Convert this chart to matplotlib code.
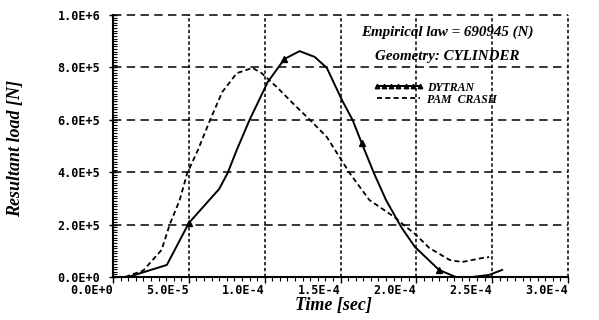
import numpy as np
import matplotlib
matplotlib.use('Agg')
import matplotlib.pyplot as plt
from matplotlib.ticker import FuncFormatter, MultipleLocator

# DYTRAN curve, time in microseconds, load in kN
t_dytran = [10, 35.5, 50, 70, 75.6, 81.6, 90, 102, 113, 123, 133, 141, 151, 158,
            164, 172, 180, 190, 199, 215, 226, 237, 248, 256.6]
f_dytran = [0, 46, 206, 336, 397, 485, 599, 744, 832, 862, 840, 798, 675, 599,
            511, 397, 294, 191, 115, 27, 0, 0, 8, 27]
dytran_marks = [2, 8, 14, 19]

# PAM CRASH curve
t_pam = [8, 20, 32, 37.5, 44, 49, 56, 64, 72, 81.6, 92, 98, 108, 121, 130, 141,
         156, 169, 185.5, 191, 200, 208.5, 222, 230, 243, 248]
f_pam = [0, 25, 103, 202, 294, 397, 485, 599, 706, 778, 798, 778, 725, 649, 599,
         534, 397, 294, 229, 202, 160, 111, 65, 57, 72, 76]

empirical = 690945
geometry = 'CYLINDER'


def sci(v, pos):
    if abs(v) < 1e-12:
        return '0.0E+0'
    e = int(np.floor(np.log10(abs(v)) + 1e-9))
    m = v / 10 ** e
    return f'{m:.1f}E{e:+d}'


serif = dict(family='Liberation Serif', weight='bold', style='italic')

fig = plt.figure(figsize=(5.99, 3.2), dpi=100)
fig.set_facecolor('w')
ax = fig.add_axes([113 / 599, 43 / 320, 455 / 599, 262 / 320])

ax.plot(np.array(t_dytran) * 1e-6, np.array(f_dytran) * 1e3, '-k', lw=1.4,
        marker='^', ms=4, markevery=dytran_marks, label='DYTRAN')
ax.plot(np.array(t_pam) * 1e-6, np.array(f_pam) * 1e3, color='k', lw=1.3,
        ls=(0, (2.8, 1.8)), label='PAM  CRASH')

ax.set_xlim(0, 3e-4)
ax.set_ylim(0, 1e6)
ax.xaxis.set_major_locator(MultipleLocator(5e-5))
ax.xaxis.set_minor_locator(MultipleLocator(5e-6))
ax.yaxis.set_major_locator(MultipleLocator(2e5))
ax.yaxis.set_minor_locator(MultipleLocator(1e4))
ax.xaxis.set_major_formatter(FuncFormatter(sci))
ax.yaxis.set_major_formatter(FuncFormatter(sci))

ax.xaxis.grid(True, color='k', ls=(0, (2.2, 1.6)), lw=1.1)
ax.yaxis.grid(True, color='k', ls=(0, (5.5, 3.5)), lw=1.1)
for g in ax.get_xgridlines() + ax.get_ygridlines():
    g.set_clip_on(False)

for s in ['top', 'right']:
    ax.spines[s].set_visible(False)
for s in ['left', 'bottom']:
    ax.spines[s].set_linewidth(1.5)

ax.tick_params(axis='x', which='major', direction='out', length=4, width=1, pad=1)
ax.tick_params(axis='x', which='minor', direction='out', length=3, width=0.8)
ax.tick_params(axis='y', which='major', direction='inout', length=6, width=1, pad=6)
ax.tick_params(axis='y', which='minor', direction='in', length=3, width=0.8)

for lab in ax.get_xticklabels() + ax.get_yticklabels():
    lab.set_fontfamily('DejaVu Sans Mono')
    lab.set_fontweight('bold')
    lab.set_fontsize(8.5)
for lab in ax.get_xticklabels():
    lab.set_horizontalalignment('right')

ax.set_xlabel('Time [sec]', fontsize=13, **serif)
ax.set_ylabel('Resultant load [N]', fontsize=13, **serif)
ax.xaxis.set_label_coords(0.484, -0.078)
ax.yaxis.set_label_coords(-0.195, 0.49)

ax.text(0.734, 0.935, f'Empirical law = {empirical} (N)', transform=ax.transAxes,
        ha='center', va='center', fontsize=10.8, **serif)
ax.text(0.734, 0.84, f'Geometry: {geometry}', transform=ax.transAxes,
        ha='center', va='center', fontsize=10.8, **serif)

ax.legend(loc='center left', bbox_to_anchor=(0.56, 0.70), frameon=False,
          prop=dict(family='Liberation Serif', weight='bold', style='italic', size=8.5),
          handlelength=4.2, handletextpad=0.3, labelspacing=0.0, borderpad=0,
          numpoints=7, markerscale=0.8)

plt.savefig('out.png', dpi=100)
plt.close()
